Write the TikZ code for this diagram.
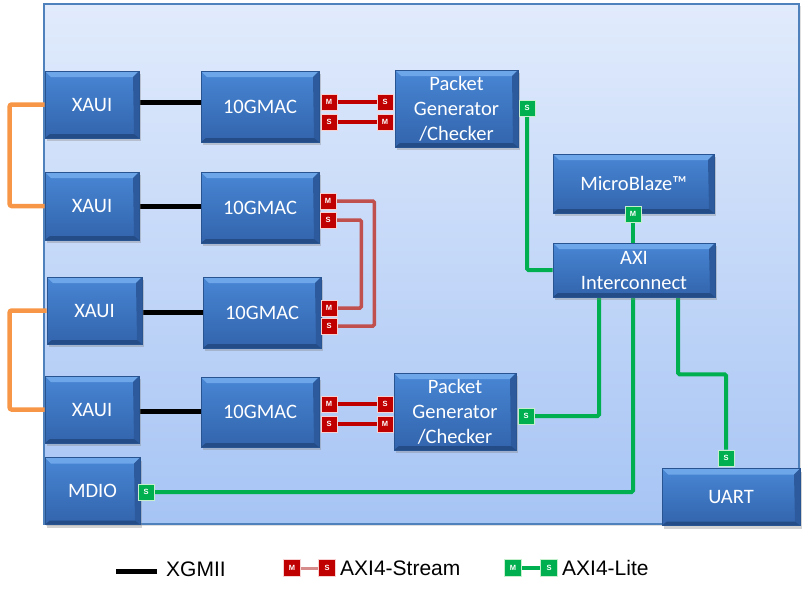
\documentclass[tikz,border=0pt]{standalone}
\usepackage{fontspec}
\setmainfont{Carlito}
\newfontfamily\lgfont{Liberation Sans}
\usetikzlibrary{shadows,calc}
\definecolor{panelTop}{RGB}{225,235,252}
\definecolor{panelBot}{RGB}{166,196,244}
\definecolor{panelEdge}{RGB}{79,129,189}
\definecolor{boxTop}{RGB}{72,134,212}
\definecolor{boxBot}{RGB}{50,100,172}
\definecolor{boxEdge}{RGB}{40,84,146}
\definecolor{bevTop}{RGB}{110,166,234}
\definecolor{bevBot}{RGB}{36,76,134}
\definecolor{bevRight}{RGB}{44,90,156}
\definecolor{redTag}{RGB}{192,0,0}
\definecolor{redTagEdge}{RGB}{246,210,210}
\definecolor{greenTag}{RGB}{0,176,80}
\definecolor{greenTagEdge}{RGB}{198,239,206}
\definecolor{streamRed}{RGB}{192,0,0}
\definecolor{loopRed}{RGB}{192,80,77}
\definecolor{legRed}{RGB}{214,140,138}
\definecolor{liteGreen}{RGB}{0,176,80}
\definecolor{xauiOrange}{RGB}{247,150,70}
\pgfdeclarelayer{bg}
\pgfdeclarelayer{wires}
\pgfsetlayers{bg,wires,main}
\tikzset{
  blk/.style={draw=boxEdge, line width=0.6pt, top color=boxTop, bottom color=boxBot,
    text=white, font=\fontsize{20.5}{25}\selectfont, align=center, inner sep=0pt,
    drop shadow={opacity=0.35, shadow xshift=1.5pt, shadow yshift=-3pt},
    path picture={
      \fill[bevTop] (path picture bounding box.north west) -- (path picture bounding box.north east)
        -- ([xshift=-6pt,yshift=-6pt]path picture bounding box.north east)
        -- ([xshift=6pt,yshift=-6pt]path picture bounding box.north west) -- cycle;
      \fill[bevRight] (path picture bounding box.north east) -- (path picture bounding box.south east)
        -- ([xshift=-5pt,yshift=4pt]path picture bounding box.south east)
        -- ([xshift=-6pt,yshift=-6pt]path picture bounding box.north east) -- cycle;
      \fill[bevBot] (path picture bounding box.south west) -- (path picture bounding box.south east)
        -- ([xshift=-5pt,yshift=4pt]path picture bounding box.south east)
        -- ([xshift=5pt,yshift=4pt]path picture bounding box.south west) -- cycle;
    }},
  rtag/.style={draw=redTagEdge, line width=0.9pt, fill=redTag, text=white,
    minimum width=16pt, minimum height=16pt, inner sep=0pt,
    font=\lgfont\bfseries\fontsize{7.5}{8}\selectfont},
  gtag/.style={rtag, draw=greenTagEdge, fill=greenTag},
  xg/.style={line width=5pt, black},
  sl/.style={line width=4pt, streamRed},
  ll/.style={line width=3.5pt, loopRed, rounded corners=1.5pt},
  gl/.style={line width=4pt, liteGreen, rounded corners=1.5pt},
  ol/.style={line width=4.5pt, xauiOrange, rounded corners=2pt},
  lgtext/.style={font=\lgfont\fontsize{21}{24}\selectfont, anchor=west, inner sep=0pt}
}
\begin{document}
\begin{tikzpicture}[x=1pt,y=-1pt]
\useasboundingbox (0,0) rectangle (808,592);
\begin{pgfonlayer}{bg}
\node[draw=panelEdge, line width=1.8pt, top color=panelTop, bottom color=panelBot,
  minimum width=755pt, minimum height=520pt, inner sep=0pt,
  drop shadow={opacity=0.25, shadow xshift=2pt, shadow yshift=-2pt}] (panel) at (421.5,264) {};
\end{pgfonlayer}

% blocks
\node[blk, minimum width=94pt, minimum height=67pt] (xaui1) at (92,104.5) {XAUI};
\node[blk, minimum width=94pt, minimum height=68pt] (xaui2) at (92,206) {XAUI};
\node[blk, minimum width=95pt, minimum height=67pt] (xaui3) at (94.5,310.5) {XAUI};
\node[blk, minimum width=94pt, minimum height=67pt] (xaui4) at (92,409.5) {XAUI};
\node[blk, minimum width=95pt, minimum height=67pt] (mdio) at (92.5,491) {MDIO};
\node[blk, minimum width=118pt, minimum height=71pt] (mac1) at (260,106.5) {10GMAC};
\node[blk, minimum width=118pt, minimum height=71pt] (mac2) at (260,207.5) {10GMAC};
\node[blk, minimum width=118pt, minimum height=71pt] (mac3) at (262,312.5) {10GMAC};
\node[blk, minimum width=118pt, minimum height=70pt] (mac4) at (260,412) {10GMAC};
\node[blk, minimum width=123pt, minimum height=77pt] (pg1) at (456.5,108.5) {Packet\\Generator\\/Checker};
\node[blk, minimum width=122pt, minimum height=77pt] (pg2) at (455,411.5) {Packet\\Generator\\/Checker};
\node[blk, minimum width=161pt, minimum height=59pt] (mb) at (633.5,183.5) {MicroBlaze™};
\node[blk, minimum width=162pt, minimum height=54pt] (axi) at (634,270) {AXI\\Interconnect};
\node[blk, minimum width=138pt, minimum height=57pt] (uart) at (731,497) {UART};

% tags
\node[rtag] (m1m) at (329,102) {M};
\node[rtag] (m1s) at (329,122) {S};
\node[rtag] (p1s) at (385,102) {S};
\node[rtag] (p1m) at (385,122) {M};
\node[rtag] (m2m) at (328,201) {M};
\node[rtag] (m2s) at (328,220) {S};
\node[rtag] (m3m) at (329,308) {M};
\node[rtag] (m3s) at (329,326) {S};
\node[rtag] (m4m) at (329,404) {M};
\node[rtag] (m4s) at (329,424) {S};
\node[rtag] (p2s) at (385,404) {S};
\node[rtag] (p2m) at (385,424) {M};
\node[gtag] (pg1s) at (527,108) {S};
\node[gtag] (pg2s) at (526,416) {S};
\node[gtag] (mbm) at (633,214) {M};
\node[gtag] (uarts) at (726,458) {S};
\node[gtag] (mdios) at (146,492) {S};

% wires
\begin{pgfonlayer}{wires}
\draw[ol] (xaui1.west) -- ++(-35,0) |- (xaui2.west);
\draw[ol] (xaui3.west) -- ++(-37,0) |- (xaui4.west);
\draw[xg] ([yshift=2pt]xaui1.east) -- ([yshift=2pt]xaui1.east -| mac1.west);
\draw[xg] (xaui2.east) -- (xaui2.east -| mac2.west);
\draw[xg] ([yshift=-2pt]xaui3.east) -- ([yshift=-2pt]xaui3.east -| mac3.west);
\draw[xg] ([yshift=-1.5pt]xaui4.east) -- ([yshift=-1.5pt]xaui4.east -| mac4.west);
\draw[sl] (m1m.east) -- (p1s.west);
\draw[sl] (m1s.east) -- (p1m.west);
\draw[sl] (m4m.east) -- (p2s.west);
\draw[sl] (m4s.east) -- (p2m.west);
\draw[ll] (m2m.east) -- ++(38,0) |- (m3s.east);
\draw[ll] (m2s.east) -- ++(25,0) |- (m3m.east);
\draw[gl] (pg1s.south) |- (axi.west);
\draw[gl] (mbm.south) -- (mbm.south |- axi.north);
\draw[gl] ([xshift=-35pt]axi.south) |- (pg2s.east);
\draw[gl] (mbm.south |- axi.south) |- (mdios.east);
\draw[gl] ([xshift=44pt]axi.south) -- ++(0,77) -| (uarts.north);
\end{pgfonlayer}

% legend
\coordinate (lgA) at (116,571);
\coordinate (lgB) at (157,571);
\draw[line width=5pt, black, drop shadow={opacity=0.3, shadow xshift=1pt, shadow yshift=-2pt}] (lgA) -- (lgB);
\node[lgtext] (lgxg) at (166,569) {XGMII};
\node[rtag, minimum width=17pt, minimum height=17pt] (lgm) at (292,568) {M};
\node[rtag, minimum width=17pt, minimum height=17pt] (lgs) at (327,568) {S};
\begin{pgfonlayer}{wires}
\draw[line width=3pt, legRed] (lgm.east) -- (lgs.west);
\end{pgfonlayer}
\node[lgtext] (lgst) at (340,568) {AXI4-Stream};
\node[gtag, minimum width=17pt, minimum height=17pt] (lggm) at (513,568) {M};
\node[gtag, minimum width=17pt, minimum height=17pt] (lggs) at (549,568) {S};
\begin{pgfonlayer}{wires}
\draw[line width=3.5pt, liteGreen] (lggm.east) -- (lggs.west);
\end{pgfonlayer}
\node[lgtext] (lglt) at (562,568) {AXI4-Lite};
\end{tikzpicture}
\end{document}
